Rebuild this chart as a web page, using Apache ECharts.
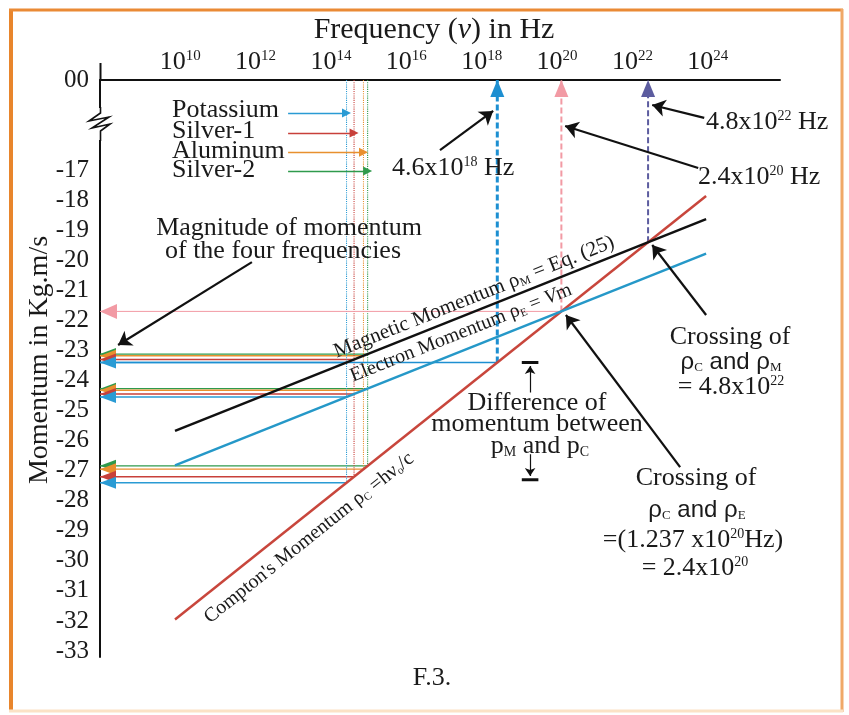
<!DOCTYPE html>
<html><head><meta charset="utf-8">
<script src="https://cdn.jsdelivr.net/npm/echarts@6/dist/echarts.min.js"></script>
<style>html,body{margin:0;padding:0;background:#fff}#c{width:849px;height:715px}</style>
</head><body><div id="c"></div>
<script>
// ---- data (log10 frequency on x, log10 momentum on y) ----
const freqTicks = [10, 12, 14, 16, 18, 20, 22, 24];
const momentumTicks = [-14, -17, -18, -19, -20, -21, -22, -23, -24, -25, -26, -27, -28, -29, -30, -31, -32, -33];
const compton = [[10.05, -31.95], [24.14, -17.86]];
const magnetic = [[10.05, -25.675], [24.14, -18.63]];
const electron = [[10.05, -26.825], [24.14, -19.78]];
const metals = ['Potassium', 'Silver-1', 'Aluminum', 'Silver-2'];
const metalFreq = [14.6, 14.8, 15.05, 15.16];
const metalMagnetic = [-23.4, -23.3, -23.175, -23.12];
const metalElectron = [-24.55, -24.45, -24.325, -24.27];
const metalCompton = [-27.4, -27.2, -26.95, -26.84];
const metalLabelY = [-15.10, -15.76, -16.40, -17.03];
const metalColors = ['#2a9bd4', '#c8403a', '#e8902e', '#2f9a4c'];
const markFreq = [18.6, 20.3, 22.6];          // 4.6e18, 2.4e20, 4.8e22
const markMomentum = [-23.4, -21.7, -19.4];
const markColors = ['#1d8fd1', '#f29aa4', '#5c5c9f'];
const annotArrows = [
  [[12.09, -20.06], [8.54, -22.82]],
  [[17.08, -16.33], [18.49, -15.03]],
  [[24.09, -15.26], [22.71, -14.83]],
  [[23.93, -16.93], [20.40, -15.53]],
  [[24.14, -21.82], [22.71, -19.49]],
  [[23.45, -26.88], [20.42, -21.82]]
];
const diffX = 19.47, diffTop = -23.4, diffBottom = -27.3;

const X0 = 8.06, X1 = 26.1, Y0 = -33.2, Y1 = -14;
const SERIF = 'Liberation Serif', SANS = 'Liberation Sans';
const leftTri = 'path://M0,6L14,0L14,12Z';

const series = [];
function seg(data, color, width, type, z) {
  series.push({ type: 'line', data: data, symbol: 'none', silent: true, z: z || 2,
    lineStyle: { color: color, width: width, type: type || 'solid', cap: 'butt' } });
}
function head(pt, color, sym, size, offset, z) {
  series.push({ type: 'scatter', data: [pt], symbol: sym, symbolSize: size, symbolOffset: offset,
    clip: false, silent: true, z: z || 4, itemStyle: { color: color, opacity: 1 } });
}

// main momentum lines
seg(compton, '#c8463c', 2.5, 'solid', 3);
seg(magnetic, '#111111', 2.5, 'solid', 3);
seg(electron, '#2598c8', 2.5, 'solid', 3);

// metal construction lines (draw Silver-2 first so Potassium is on top)
for (let k = 3; k >= 0; k--) {
  const f = metalFreq[k], c = metalColors[k];
  seg([[f, Y1], [f, metalCompton[k]]], c, 1.1, 'dotted');
  [metalMagnetic[k], metalElectron[k], metalCompton[k]].forEach(function (lv) {
    seg([[X0, lv], [f, lv]], c, 1.4);
    head([X0, lv], c, leftTri, [16, 12], ['50%', 0]);
  });
}

// marked frequencies
seg([[markFreq[0], markMomentum[0]], [markFreq[0], Y1]], markColors[0], 3, [6, 3]);
seg([[X0, markMomentum[0]], [markFreq[0], markMomentum[0]]], markColors[0], 1.4);
head([markFreq[0], Y1], markColors[0], 'triangle', [14, 17], [0, '50%']);
seg([[markFreq[1], markMomentum[1]], [markFreq[1], Y1]], markColors[1], 2, [6, 3]);
seg([[X0, markMomentum[1]], [markFreq[1], markMomentum[1]]], markColors[1], 1);
head([markFreq[1], Y1], markColors[1], 'triangle', [14, 17], [0, '50%']);
head([X0, markMomentum[1]], markColors[1], leftTri, [17, 15], ['50%', 0]);
seg([[markFreq[2], markMomentum[2]], [markFreq[2], Y1]], markColors[2], 2, [6, 3]);
head([markFreq[2], Y1], markColors[2], 'triangle', [14, 17], [0, '50%']);

// difference marker
seg([[diffX - 0.22, diffTop], [diffX + 0.22, diffTop]], '#111', 3);
seg([[diffX - 0.22, diffBottom], [diffX + 0.22, diffBottom]], '#111', 3);
series.push({ type: 'lines', coordinateSystem: 'cartesian2d', silent: true, z: 5,
  symbol: ['none', 'arrow'], symbolSize: 8, lineStyle: { color: '#111', width: 1.2, opacity: 1 },
  data: [{ coords: [[diffX, -24.4], [diffX, diffTop - 0.12]] }, { coords: [[diffX, -26.45], [diffX, diffBottom + 0.12]] }] });

// annotation arrows
series.push({ type: 'lines', coordinateSystem: 'cartesian2d', silent: true, z: 6,
  symbol: ['none', 'arrow'], symbolSize: 13, lineStyle: { color: '#111', width: 2.2, opacity: 1 },
  data: annotArrows.map(function (a) { return { coords: a }; }) });

// metal label arrows
series.push({ type: 'lines', coordinateSystem: 'cartesian2d', silent: true, z: 6,
  symbol: ['none', 'triangle'], symbolSize: 9, lineStyle: { width: 1.4, opacity: 1 },
  data: metals.map(function (m, k) {
    return { coords: [[13.05, metalLabelY[k]], [metalFreq[k], metalLabelY[k]]], lineStyle: { color: metalColors[k] }, itemStyle: { color: metalColors[k] } };
  }) });

function txt(text, x, y, size, opts) {
  opts = opts || {};
  return { type: 'text', x: x, y: y, z: 100, rotation: opts.rot || 0, silent: true,
    style: { text: text, fontFamily: opts.family || SERIF, fontSize: size, fill: '#1a1a1a',
      align: opts.align || 'center', verticalAlign: 'middle', fontStyle: opts.style || 'normal',
      rich: {
        sup: { fontSize: Math.round(size * 0.55), verticalAlign: 'top', fontFamily: SERIF },
        sub: { fontSize: Math.round(size * 0.55), verticalAlign: 'bottom', fontFamily: SERIF },
        i: { fontStyle: 'italic', fontFamily: SERIF, fontSize: size },
        s: { fontFamily: SANS, fontSize: size }
      } } };
}

const graphics = [
  // frame
  { type: 'line', z: 0, shape: { x1: 11, y1: 9, x2: 11, y2: 712 }, style: { stroke: '#e8852c', lineWidth: 4 } },
  { type: 'line', z: 0, shape: { x1: 9, y1: 10, x2: 843, y2: 10 }, style: { stroke: '#ea8a35', lineWidth: 3 } },
  { type: 'line', z: 0, shape: { x1: 842, y1: 9, x2: 842, y2: 712 }, style: { stroke: '#f0a868', lineWidth: 3 } },
  { type: 'line', z: 0, shape: { x1: 9, y1: 711, x2: 843, y2: 711 }, style: { stroke: '#fbe2c6', lineWidth: 3 } },
  // y axis stub above x axis and break
  { type: 'line', z: 100, shape: { x1: 100.5, y1: 63, x2: 100.5, y2: 81 }, style: { stroke: '#111', lineWidth: 2 } },
  { type: 'rect', z: 100, shape: { x: 95, y: 108, width: 12, height: 32 }, style: { fill: '#fff' } },
  { type: 'polyline', z: 101, shape: { points: [[100.5, 107], [100.5, 113], [89, 121], [109, 117], [92, 128], [110, 124], [100.5, 131], [100.5, 141]] }, style: { stroke: '#111', lineWidth: 1.6, fill: null } },
  // titles
  txt('Frequency ({i|v}) in Hz', 434, 30, 30),
  txt('Momentum in Kg.m/s', 40, 360, 28, { rot: Math.PI / 2 }),
  txt('F.3.', 432, 678, 26),
  // metal labels
  txt(metals[0], 172, 110, 26, { align: 'left' }),
  txt(metals[1], 172, 131, 26, { align: 'left' }),
  txt(metals[2], 172, 151, 26, { align: 'left' }),
  txt(metals[3], 172, 170, 26, { align: 'left' }),
  // frequency callouts
  txt('4.6x10{sup|18} Hz', 392, 168, 26, { align: 'left' }),
  txt('4.8x10{sup|22} Hz', 706, 122, 26, { align: 'left' }),
  txt('2.4x10{sup|20} Hz', 698, 177, 26, { align: 'left' }),
  txt('Magnitude of momentum', 289, 228, 26),
  txt('of the four frequencies', 283, 251, 26),
  txt('Difference of', 537, 403, 26),
  txt('momentum between', 537, 424, 26),
  txt('p{sub|M} and p{sub|C}', 540, 446, 26),
  txt('Crossing of', 730, 337, 26),
  txt('{s|ρ}{sub|C}{s| and ρ}{sub|M}', 731, 362, 24, { family: SANS }),
  txt('= 4.8x10{sup|22}', 731, 387, 26),
  txt('Crossing of', 696, 478, 26),
  txt('{s|ρ}{sub|C}{s| and ρ}{sub|E}', 697, 510, 24, { family: SANS }),
  txt('=(1.237 x10{sup|20}Hz)', 693, 540, 26),
  txt('= 2.4x10{sup|20}', 695, 568, 26),
  // line labels
  txt('Magnetic Momentum ρ{sub|M} = Eq. (25)', 474, 297, 21, { rot: 0.3794 }),
  txt('Electron Momentum ρ{sub|E} = {i|V}m', 461, 333, 20, { rot: 0.3794 }),
  txt('Compton\'s Momentum ρ{sub|C} =hν{sub|o}/c', 309, 538, 20, { rot: 0.673 })
];
graphics.forEach(function (g) { if (g.type === 'text') { g.style.rich.i.fontSize = g.style.fontSize; g.style.rich.s.fontSize = g.style.fontSize; } });

const chart = echarts.init(document.getElementById('c'), null, { renderer: 'canvas' });
chart.setOption({
  animation: false,
  backgroundColor: '#ffffff',
  grid: { left: 100, right: 69, top: 80, bottom: 58, containLabel: false, outerBoundsMode: 'none' },
  xAxis: {
    type: 'value', position: 'top', min: X0, max: X1,
    axisLine: { show: true, onZero: false, lineStyle: { color: '#111', width: 2 } },
    axisTick: { show: false }, splitLine: { show: false },
    axisLabel: {
      customValues: freqTicks, margin: 5, color: '#1a1a1a',
      formatter: function (v) { return '{p|}{b|10}{s|' + v + '}'; },
      rich: {
        p: { width: 14, fontSize: 26 },
        b: { fontSize: 26, fontFamily: SERIF, color: '#1a1a1a' },
        s: { fontSize: 15, fontFamily: SERIF, verticalAlign: 'top', color: '#1a1a1a' }
      }
    }
  },
  yAxis: {
    type: 'value', min: Y0, max: Y1,
    axisLine: { show: true, onZero: false, lineStyle: { color: '#111', width: 2 } },
    axisTick: { show: false }, splitLine: { show: false },
    axisLabel: {
      customValues: momentumTicks, margin: 11, color: '#1a1a1a', fontSize: 25, fontFamily: SERIF,
      formatter: function (v) { return v === -14 ? '00' : String(v); }
    }
  },
  series: series,
  graphic: { elements: graphics }
});
</script></body></html>
